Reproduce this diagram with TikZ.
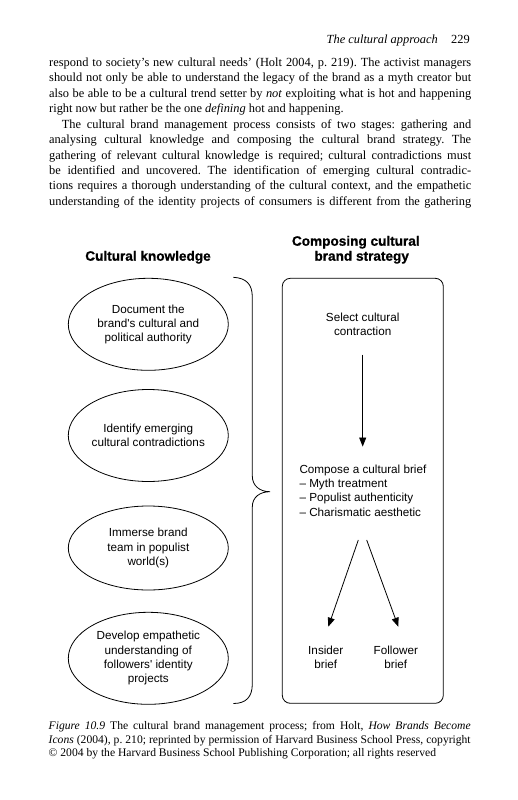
\documentclass[tikz,border=0pt]{standalone}
\usepackage{fontspec}
\setmainfont{Liberation Serif}
\newfontfamily\diagfont{Liberation Sans}
\newfontfamily\headfont{Liberation Sans}[BoldFeatures={FakeBold=0.9}]
\usetikzlibrary{shapes.geometric,arrows.meta}
\frenchspacing

\newcommand{\fullline}[1]{\makebox[422pt][s]{#1}}

\tikzset{
	bodyline/.style={anchor=base west, inner sep=0pt, font=\fontsize{12.4}{15.3}\selectfont},
	capline/.style={anchor=base west, inner sep=0pt, font=\fontsize{11.6}{13.4}\selectfont},
	knowledge/.style={ellipse, draw, line width=0.8pt, minimum width=160pt, minimum height=92pt, inner sep=0pt, align=center, font=\diagfont\fontsize{11.7}{14.3}\selectfont},
	colhead/.style={anchor=base, inner sep=0pt, font=\headfont\bfseries\fontsize{13.6}{15}\selectfont},
	stratbox/.style={draw, rounded corners=8pt, line width=0.8pt, minimum width=161pt, minimum height=425pt, inner sep=0pt},
	stratlabel/.style={inner sep=0pt, font=\diagfont\fontsize{11.7}{14.3}\selectfont},
	flow/.style={-{Triangle[length=9pt,width=7pt]}, line width=0.8pt},
}

\begin{document}
\begin{tikzpicture}[x=1pt, y=-1pt]
		\useasboundingbox (0,0) rectangle (517,800);
		%En-tete de page
		\node (runhead) [anchor=base east, inner sep=0pt, font=\fontsize{12.4}{15.3}\selectfont] at (470,44) {\textit{The cultural approach}\hspace{13.4pt}229};
		%Texte courant
		\node (l1) [bodyline] at (49,66.5) {\fullline{respond to society's new cultural needs' (Holt 2004, p. 219). The activist managers}};
		\node (l2) [bodyline] at (49,81.8) {\fullline{should not only be able to understand the legacy of the brand as a myth creator but}};
		\node (l3) [bodyline] at (49,97.1) {\fullline{also be able to be a cultural trend setter by \textit{not} exploiting what is hot and happening}};
		\node (l4) [bodyline] at (49,112.4) {right now but rather be the one \textit{defining} hot and happening.};
		\node (l5) [bodyline] at (49,128.5) {\fullline{\hspace*{12.7pt}The cultural brand management process consists of two stages: gathering and}};
		\node (l6) [bodyline] at (49,143.8) {\fullline{analysing cultural knowledge and composing the cultural brand strategy. The}};
		\node (l7) [bodyline] at (49,159.1) {\fullline{gathering of relevant cultural knowledge is required; cultural contradictions must}};
		\node (l8) [bodyline] at (49,174.4) {\fullline{be identified and uncovered. The identification of emerging cultural contradic-}};
		\node (l9) [bodyline] at (49,189.7) {\fullline{tions requires a thorough understanding of the cultural context, and the empathetic}};
		\node (l10) [bodyline] at (49,205) {\fullline{understanding of the identity projects of consumers is different from the gathering}};
		%Titres des colonnes
		\node (headK) [colhead] at (148,260.7) {Cultural knowledge};
		\node (headS1) [colhead] at (355.8,245.7) {Composing cultural};
		\node (headS2) [colhead] at (361.7,260.7) {brand strategy};
		%Savoir culturel
		\node (doc) [knowledge] at (148.3,324.3) {Document the\\brand's cultural and\\political authority};
		\node (ident) [knowledge] at (148.3,435.5) {Identify emerging\\cultural contradictions};
		\node (immerse) [knowledge, minimum height=84pt] at (148.3,548) {Immerse brand\\team in populist\\world(s)};
		\node (empath) [knowledge] at (148.3,658.3) {Develop empathetic\\understanding of\\followers' identity\\projects};
		\draw[line width=0.8pt] (233.3,277.3) .. controls (246,278) and (252.3,284) .. (252.3,297) -- (252.3,476)
			.. controls (252.3,486) and (260,491.7) .. (270,491.7)
			.. controls (260,491.7) and (252.3,497) .. (252.3,507) -- (252.3,684)
			.. controls (252.3,697) and (246,703.5) .. (233.3,703.5);
		%Strategie de marque
		\node (strat) [stratbox] at (362.8,490.8) {};
		\node (sel) [stratlabel, align=center] at (362.7,324) {Select cultural\\contraction};
		\node (brief) [stratlabel, align=left, anchor=west] at (299.3,490.5) {Compose a cultural brief\\– Myth treatment\\– Populist authenticity\\– Charismatic aesthetic};
		\node (insider) [stratlabel, align=center] at (325.8,657.5) {Insider\\brief};
		\node (follower) [stratlabel, align=center] at (395.8,657.5) {Follower\\brief};
		\coordinate (forkL) at (358.3,540);
		\coordinate (forkR) at (366.7,540);
		\coordinate (tipL) at (328.3,626.7);
		\coordinate (tipR) at (398.3,626.7);
		\draw[flow, shorten <=19pt, shorten >=18pt] (sel.south) -- (sel.south |- brief.north);
		\draw[flow] (forkL) -- (tipL);
		\draw[flow] (forkR) -- (tipR);
		%Legende
		\node (c1) [capline] at (48.5,729.5) {\fullline{\textit{Figure 10.9} The cultural brand management process; from Holt, \textit{How Brands Become}}};
		\node (c2) [capline] at (48.5,743) {\fullline{\textit{Icons} (2004), p. 210; reprinted by permission of Harvard Business School Press, copyright}};
		\node (c3) [capline] at (48.5,756.5) {© 2004 by the Harvard Business School Publishing Corporation; all rights reserved};
\end{tikzpicture}
\end{document}
